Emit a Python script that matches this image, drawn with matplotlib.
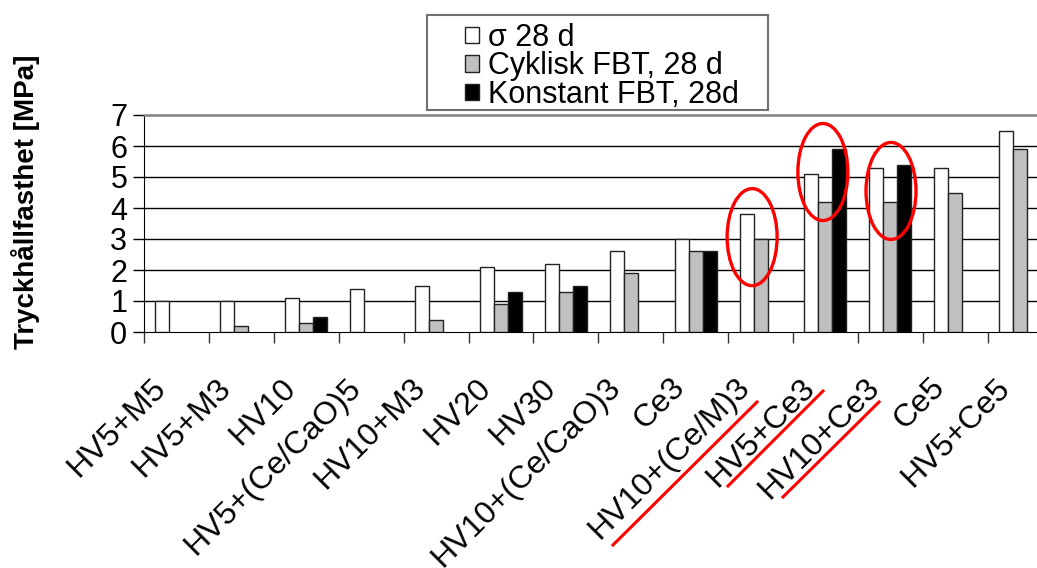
import numpy as np
import matplotlib
matplotlib.use("Agg")
import matplotlib.pyplot as plt
from matplotlib.patches import Ellipse, Rectangle
from matplotlib.lines import Line2D
import matplotlib.transforms as mtransforms

plt.rcParams['font.family'] = ['Liberation Sans', 'DejaVu Sans']

categories = ["HV5+M5", "HV5+M3", "HV10", "HV5+(Ce/CaO)5", "HV10+M3", "HV20", "HV30",
              "HV10+(Ce/CaO)3", "Ce3", "HV10+(Ce/M)3", "HV5+Ce3", "HV10+Ce3", "Ce5", "HV5+Ce5"]
sigma_28d = [1.0, 1.0, 1.1, 1.4, 1.5, 2.1, 2.2, 2.6, 3.0, 3.8, 5.1, 5.3, 5.3, 6.5]
cyklisk_fbt = [np.nan, 0.2, 0.3, np.nan, 0.4, 0.9, 1.3, 1.9, 2.6, 3.0, 4.2, 4.2, 4.5, 5.9]
konstant_fbt = [np.nan, np.nan, 0.5, np.nan, np.nan, 1.3, 1.5, np.nan, 2.6, np.nan, 5.9, 5.4, np.nan, np.nan]
series_labels = ["σ 28 d", "Cyklisk FBT, 28 d", "Konstant FBT, 28d"]
yticks = [0, 1, 2, 3, 4, 5, 6, 7]

# annotation: highlighted groups (ellipse centre x, y, width, height in data units)
ellipses = [(8.87, 3.06, 0.77, 3.13), (9.96, 5.16, 0.77, 3.13), (11.01, 4.55, 0.77, 3.13)]

W, H = 1037, 568
fig = plt.figure(figsize=(W / 100, H / 100), dpi=100)
ax = fig.add_axes([144 / W, 1 - 332 / H, 14 * 64.9 / W, 217 / H])

x = np.arange(len(categories))
bw = 0.216
colors = ['white', '#c0c0c0', 'black']
handles = []
for k, (vals, c, lab) in enumerate(zip([sigma_28d, cyklisk_fbt, konstant_fbt], colors, series_labels)):
    b = ax.bar(x + (k - 1) * bw, vals, bw, color=c, edgecolor='#222222', linewidth=1.0,
               label=lab, zorder=3)
    handles.append(b)

ax.set_xlim(-0.5, len(categories) - 0.5)
ax.set_ylim(0, 7)
ax.set_yticks(yticks)
ax.set_yticklabels([str(v) for v in yticks], fontsize=22)
ax.tick_params(axis='y', direction='out', length=8, width=1, pad=4, colors='black')
for v in yticks[1:-1]:
    ax.axhline(v, color='black', linewidth=1.0, zorder=1)

ax.set_xticks(x)
ax.set_xticklabels(categories, fontsize=23, rotation=45, ha='right', va='center',
                   rotation_mode='anchor')
ax.tick_params(axis='x', which='major', length=0, pad=37)
ax.set_xticks(np.arange(-0.5, len(categories) + 0.5, 1), minor=True)
ax.tick_params(axis='x', which='minor', direction='out', length=8, width=1, color='#333333')
offset = mtransforms.ScaledTranslation(-15 / 100, 0, fig.dpi_scale_trans)
for lbl in ax.get_xticklabels():
    lbl.set_transform(lbl.get_transform() + offset)

ax.spines['left'].set_color('black')
ax.spines['bottom'].set_color('black')
ax.spines['top'].set_color('#808080')
ax.spines['top'].set_linewidth(1.8)
ax.spines['right'].set_visible(False)

ax.set_ylabel("Tryckhållfasthet [MPa]", fontsize=20, fontweight='bold')
ax.yaxis.set_label_coords(-0.114, 0.6)

for (cx, cy, ew, eh) in ellipses:
    ax.add_patch(Ellipse((cx, cy), ew, eh, fill=False, edgecolor='red', linewidth=2.4,
                         zorder=5, clip_on=False))

# red underlines beneath highlighted labels (figure pixel coordinates)
underlines = [((613, 545), (757, 402)), ((728, 486), (823, 391)), ((783, 497), (879, 402))]
for (x0, y0), (x1, y1) in underlines:
    fig.add_artist(Line2D([x0 / W, x1 / W], [1 - y0 / H, 1 - y1 / H], color='red',
                          linewidth=2.2, transform=fig.transFigure))

# legend box
fig.add_artist(Rectangle((427 / W, 1 - 110 / H), (768 - 427) / W, (110 - 15) / H,
                         transform=fig.transFigure, fill=True, facecolor='white',
                         edgecolor='#707070', linewidth=1.5, zorder=4))
leg = fig.legend(handles=handles, loc='upper left', bbox_to_anchor=(465 / W, 1 - 23 / H),
                 frameon=False, fontsize=22, handlelength=0.46, handleheight=0.46,
                 handletextpad=0.3, labelspacing=-0.05, borderpad=0, borderaxespad=0)
leg.set_zorder(6)

fig.savefig("out.png", dpi=100)
